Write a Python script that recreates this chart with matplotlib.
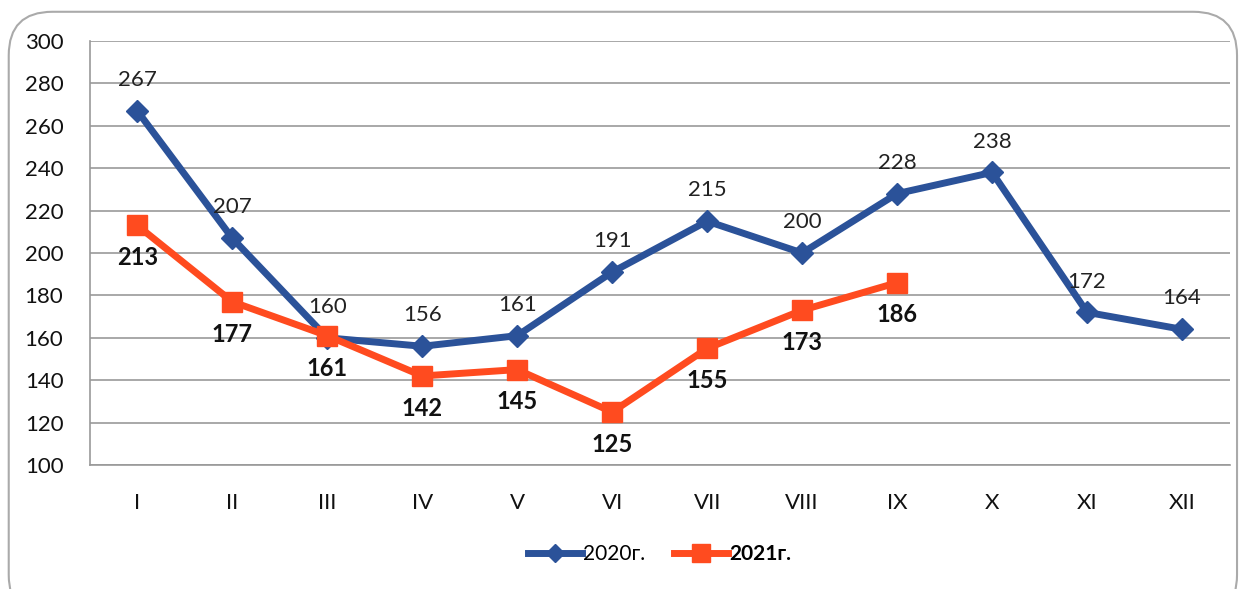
import matplotlib.pyplot as plt
from matplotlib.patches import FancyBboxPatch

# data
months = ['I', 'II', 'III', 'IV', 'V', 'VI', 'VII', 'VIII', 'IX', 'X', 'XI', 'XII']
values_2020 = [267, 207, 160, 156, 161, 191, 215, 200, 228, 238, 172, 164]
values_2021 = [213, 177, 161, 142, 145, 125, 155, 173, 186]
y_ticks = [100, 120, 140, 160, 180, 200, 220, 240, 260, 280, 300]

blue = '#2B5299'
red = '#FF4B1F'

plt.rcParams['font.family'] = ['Lato', 'DejaVu Sans']

fig = plt.figure(figsize=(12.47, 5.89), dpi=100)
ax = fig.add_axes([0.072, 0.2105, 0.914, 0.72])

# rounded frame around whole chart (bottom edge runs off the picture)
frame = FancyBboxPatch((0.007, -0.05), 0.985, 1.03, boxstyle='round,pad=0,rounding_size=0.035',
                       transform=fig.transFigure, fill=False, edgecolor='#AAAAAA', linewidth=1.5,
                       mutation_aspect=1247 / 589)
fig.patches.append(frame)

x20 = list(range(len(values_2020)))
x21 = list(range(len(values_2021)))

ax.plot(x20, values_2020, color=blue, linewidth=5, marker='D', markersize=11, label='2020г.', zorder=3)
ax.plot(x21, values_2021, color=red, linewidth=5, marker='s', markersize=15, label='2021г.', zorder=4)

for x, v in zip(x20, values_2020):
    ax.annotate(str(v), (x, v), xytext=(0, 15), textcoords='offset points',
                ha='center', va='bottom', fontsize=16, color='#222222')
for x, v in zip(x21, values_2021):
    ax.annotate(str(v), (x, v), xytext=(0, -15), textcoords='offset points',
                ha='center', va='top', fontsize=17, fontweight='bold', color='#111111')

ax.set_xlim(-0.5, 11.5)
ax.set_ylim(100, 300)
ax.set_yticks(y_ticks)
ax.set_xticks(x20)
ax.set_xticklabels(months)
ax.tick_params(axis='both', length=0, labelsize=16, colors='#111111')
ax.tick_params(axis='y', pad=19)
ax.tick_params(axis='x', pad=20)
ax.grid(axis='y', color='#999999', linewidth=1.2)
ax.set_axisbelow(True)
for side in ['top', 'right']:
    ax.spines[side].set_visible(False)
for side in ['left', 'bottom']:
    ax.spines[side].set_color('#999999')
    ax.spines[side].set_linewidth(1.2)

leg = ax.legend(loc='center', bbox_to_anchor=(0.5, -0.21), ncol=2, frameon=False,
                fontsize=15, handlelength=2.6, handletextpad=0.05, columnspacing=1.4,
                markerscale=0.85)
leg.get_texts()[1].set_fontweight('bold')

fig.savefig('out.png', dpi=100)
